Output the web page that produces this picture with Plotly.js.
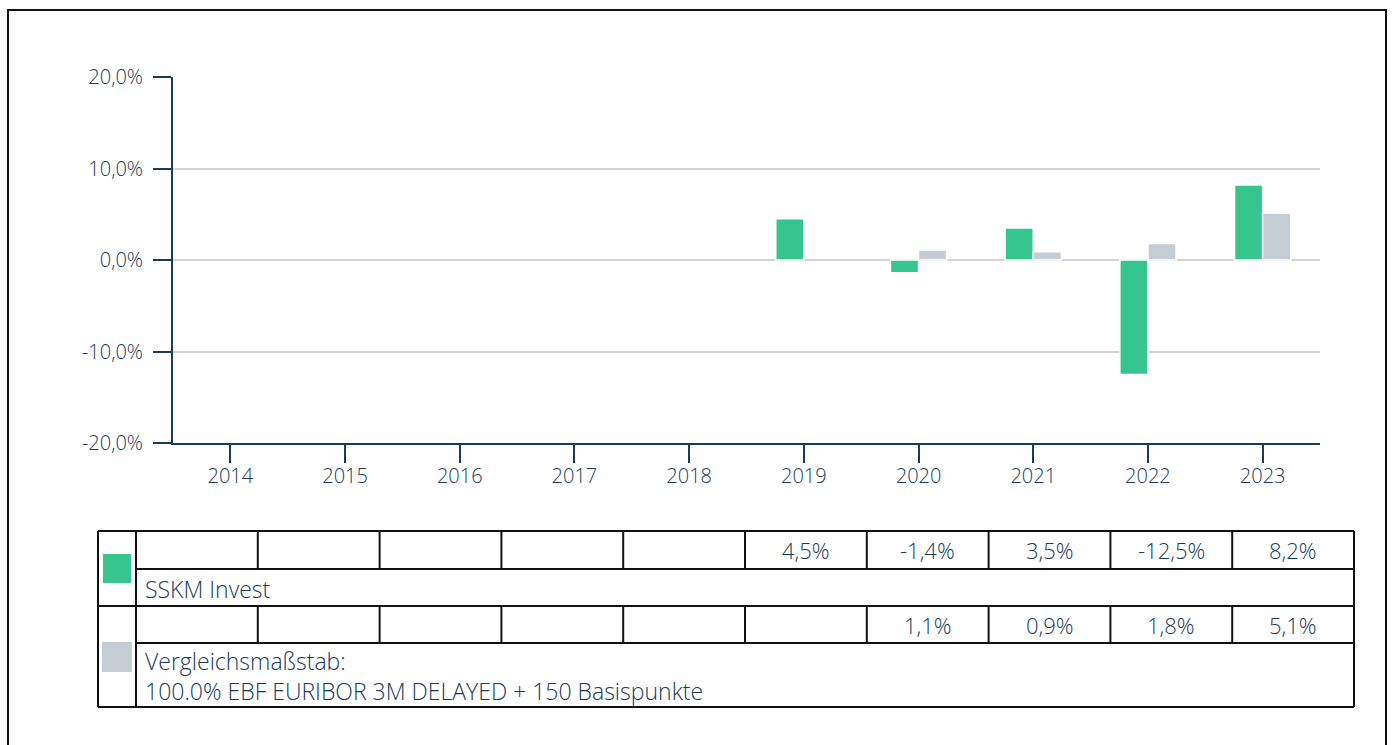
<!DOCTYPE html>
<html>
<head>
<meta charset="utf-8">
<script src="https://cdn.plot.ly/plotly-3.0.1.min.js"></script>
<style>
html,body{margin:0;padding:0;background:#fff;}
#chart{width:1392px;height:745px;}
</style>
</head>
<body>
<div id="chart"></div>
<script>
const years = ['2014','2015','2016','2017','2018','2019','2020','2021','2022','2023'];
const fundValues = [null, null, null, null, null, 4.5, -1.4, 3.5, -12.5, 8.2];
const benchValues = [null, null, null, null, null, null, 1.1, 0.9, 1.8, 5.1];
const fundName = 'SSKM Invest';
const benchName = 'Vergleichsmaßstab:<br>100.0% EBF EURIBOR 3M DELAYED + 150 Basispunkte';
const yTickVals = [-20, -10, 0, 10, 20];
const yTickText = ['-20,0%', '-10,0%', '0,0%', '10,0%', '20,0%'];

const NAVY = '#1b3a5c';
const GREEN = '#36c48f';
const GREY = '#c5ccd4';
const FONT = '"Open Sans", Lato, sans-serif';
const FW = 300;

// plot area in pixels
const W = 1392, H = 745;
const PL = 173, PR = 1320, PT = 77, PB = 443;
const px = x => (x - PL) / (PR - PL);
const py = y => (PB - y) / (PB - PT);

function fmt(v) { return v === null ? '' : v.toFixed(1).replace('.', ',') + '%'; }

const shapes = [];
const annotations = [];
function line(x0, y0, x1, y1, w, c) {
  shapes.push({type: 'line', xref: 'paper', yref: 'paper', x0: px(x0), y0: py(y0), x1: px(x1), y1: py(y1),
    line: {color: c || '#111', width: w || 2}});
}
function rect(x0, y0, x1, y1, fill) {
  shapes.push({type: 'rect', xref: 'paper', yref: 'paper', x0: px(x0), y0: py(y0), x1: px(x1), y1: py(y1),
    line: {width: 0}, fillcolor: fill});
}
function text(x, y, t, anchor, size) {
  annotations.push({xref: 'paper', yref: 'paper', x: px(x), y: py(y), text: t, showarrow: false,
    xanchor: anchor || 'center', yanchor: 'middle', align: 'left',
    font: {family: FONT, size: size || 22, color: NAVY, weight: FW}});
}

// outer frame
shapes.push({type: 'rect', xref: 'paper', yref: 'paper', x0: px(8), y0: py(10), x1: px(1386), y1: py(780),
  line: {color: '#111', width: 2}, fillcolor: 'rgba(0,0,0,0)', layer: 'below'});

// table geometry
const TL = 98, TC = 136, TR = 1354;
const rows = [531, 569, 606, 643, 707];
const colW = (TR - TC) / years.length;
line(TL, rows[0], TR, rows[0]);
line(TC, rows[1], TR, rows[1]);
line(TL, rows[2], TR, rows[2]);
line(TC, rows[3], TR, rows[3]);
line(TL, rows[4], TR, rows[4]);
line(TL, rows[0], TL, rows[4]);
line(TC, rows[0], TC, rows[4]);
line(TR, rows[0], TR, rows[4]);
for (let i = 1; i < years.length; i++) {
  const x = TC + i * colW;
  line(x, rows[0], x, rows[1]);
  line(x, rows[2], x, rows[3]);
}
// legend swatches
rect(103, 554, 131, 583, GREEN);
rect(102, 642, 132, 672, GREY);
// values
years.forEach((y, i) => {
  const cx = TC + (i + 0.5) * colW;
  if (fundValues[i] !== null) text(cx, (rows[0] + rows[1]) / 2, fmt(fundValues[i]));
  if (benchValues[i] !== null) text(cx, (rows[2] + rows[3]) / 2, fmt(benchValues[i]));
});
text(143, (rows[1] + rows[2]) / 2 + 1, fundName, 'left', 23);
text(143, (rows[3] + rows[4]) / 2 + 1, benchName, 'left', 23);

const data = [
  {type: 'bar', x: years, y: fundValues, name: fundName, marker: {color: GREEN, line: {color: '#fff', width: 1.5}}, hoverinfo: 'skip'},
  {type: 'bar', x: years, y: benchValues, name: 'Vergleichsmaßstab', marker: {color: GREY, line: {color: '#fff', width: 1.5}}, hoverinfo: 'skip'}
];

const tickFont = {family: FONT, size: 20, color: NAVY, weight: FW};

const layout = {
  width: W, height: H,
  margin: {l: PL, r: W - PR, t: PT, b: H - PB, pad: 0},
  paper_bgcolor: '#fff', plot_bgcolor: '#fff',
  showlegend: false,
  barmode: 'group', bargap: 0.51, bargroupgap: 0,
  font: {family: FONT, size: 20, color: NAVY},
  xaxis: {
    type: 'category', range: [-0.5, 9.5], fixedrange: true,
    showline: true, linecolor: NAVY, linewidth: 2, mirror: false,
    ticks: 'outside', ticklen: 18, tickwidth: 2, tickcolor: NAVY,
    ticklabelstandoff: -4,
    showgrid: false, tickfont: tickFont
  },
  yaxis: {
    range: [-20, 20], fixedrange: true,
    tickmode: 'array', tickvals: yTickVals, ticktext: yTickText,
    showline: true, linecolor: NAVY, linewidth: 2,
    ticks: 'outside', ticklen: 18, tickwidth: 2, tickcolor: NAVY,
    ticklabelstandoff: 6,
    showgrid: true, gridcolor: '#d3d3d3', gridwidth: 2, zeroline: false,
    tickfont: tickFont
  },
  shapes: shapes,
  annotations: annotations
};

Plotly.newPlot('chart', data, layout, {displayModeBar: false, staticPlot: true});
</script>
</body>
</html>
